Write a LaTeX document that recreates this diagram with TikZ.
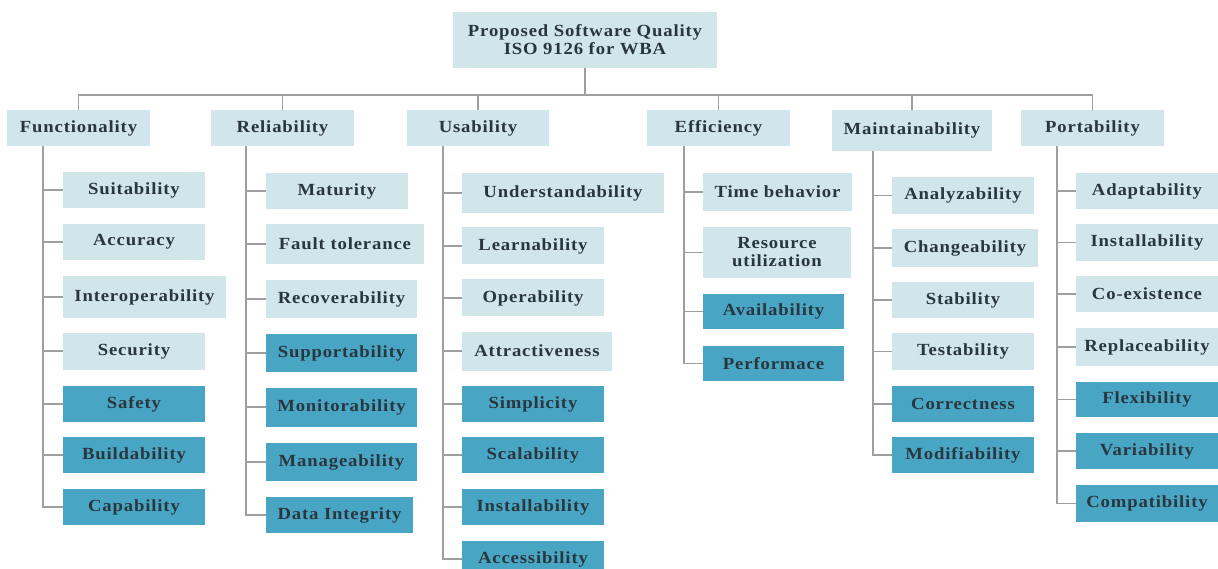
\documentclass[tikz,border=0pt]{standalone}
\usepackage{fontspec}
\setmainfont{Liberation Serif}[FakeStretch=1.1,LetterSpace=5]
\definecolor{lightc}{RGB}{208,230,234}
\definecolor{darkc}{RGB}{72,166,196}
\definecolor{txtc}{RGB}{42,54,62}
\definecolor{linec}{RGB}{158,158,158}
\newcommand\bx[7]{\node[#1, minimum width=#5pt, minimum height=#6pt] (#2) at (#3,#4) {#7};}
\tikzset{
  boxbase/.style={inner sep=0pt, font=\fontsize{17}{18}\selectfont\bfseries, text=txtc, align=center, anchor=center},
  lb/.style={boxbase, fill=lightc},
  db/.style={boxbase, fill=darkc},
  ln/.style={draw=linec, line width=1.5pt}
}
\begin{document}
\begin{tikzpicture}[x=1pt,y=-1pt]
\useasboundingbox (0,0) rectangle (1218,569);
\clip (0,0) rectangle (1218,569);
\fill[white] (0,0) rectangle (1218,569);
% root
\bx{lb}{root}{585}{40}{264}{56}{Proposed Software Quality\\ISO 9126 for WBA}
% categories
\bx{lb}{fun}{78.5}{128}{143}{36}{Functionality}
\bx{lb}{rel}{282.5}{128}{143}{36}{Reliability}
\bx{lb}{usa}{478}{128}{142}{36}{Usability}
\bx{lb}{eff}{718.5}{128}{143}{36}{Efficiency}
\bx{lb}{mai}{912}{130.5}{160}{41}{Maintainability}
\bx{lb}{por}{1092.5}{128}{143}{36}{Portability}
\foreach \c in {fun,rel,usa,eff,mai,por}
  \draw[ln] (root.south) -- ++(0,27) -| (\c.north);
% Functionality
\bx{lb}{f1}{134}{190}{142}{36}{Suitability}
\bx{lb}{f2}{134}{242}{142}{36}{Accuracy}
\bx{lb}{f3}{144.5}{297}{163}{42}{Interoperability}
\bx{lb}{f4}{134}{351}{142}{37}{Security}
\bx{db}{f5}{134}{404}{142}{36}{Safety}
\bx{db}{f6}{134}{455}{142}{36}{Buildability}
\bx{db}{f7}{134}{507}{142}{36}{Capability}
\foreach \i in {f1,f2,f3,f4,f5,f6,f7}
  \draw[ln] ([xshift=36pt]fun.south west) |- (\i.west);
% Reliability
\bx{lb}{r1}{337}{191}{142}{36}{Maturity}
\bx{lb}{r2}{345}{244}{158}{40}{Fault tolerance}
\bx{lb}{r3}{341.5}{299}{151}{38}{Recoverability}
\bx{db}{r4}{341.5}{353}{151}{38}{Supportability}
\bx{db}{r5}{341.5}{407}{151}{39}{Monitorability}
\bx{db}{r6}{341.5}{462}{151}{38}{Manageability}
\bx{db}{r7}{339.5}{515}{147}{36}{Data Integrity}
\foreach \i in {r1,r2,r3,r4,r5,r6,r7}
  \draw[ln] ([xshift=35pt]rel.south west) |- (\i.west);
% Usability
\bx{lb}{u1}{563}{193}{202}{40}{Understandability}
\bx{lb}{u2}{533}{246}{142}{37}{Learnability}
\bx{lb}{u3}{533}{298}{142}{37}{Operability}
\bx{lb}{u4}{537}{351}{150}{39}{Attractiveness}
\bx{db}{u5}{533}{404}{142}{36}{Simplicity}
\bx{db}{u6}{533}{455}{142}{36}{Scalability}
\bx{db}{u7}{533}{507}{142}{36}{Installability}
\bx{db}{u8}{533}{559}{142}{36}{Accessibility}
\foreach \i in {u1,u2,u3,u4,u5,u6,u7,u8}
  \draw[ln] ([xshift=36pt]usa.south west) |- (\i.west);
% Efficiency
\bx{lb}{e1}{777.5}{192}{149}{38}{Time behavior}
\bx{lb}{e2}{777}{252.5}{148}{51}{Resource\\utilization}
\bx{db}{e3}{773.5}{311.5}{141}{35}{Availability}
\bx{db}{e4}{773.5}{363.5}{141}{35}{Performace}
\foreach \i in {e1,e2,e3,e4}
  \draw[ln] ([xshift=37pt]eff.south west) |- (\i.west);
% Maintainability
\bx{lb}{m1}{963}{195.5}{142}{37}{Analyzability}
\bx{lb}{m2}{965}{248}{146}{38}{Changeability}
\bx{lb}{m3}{963}{300}{142}{36}{Stability}
\bx{lb}{m4}{963}{351.5}{142}{37}{Testability}
\bx{db}{m5}{963}{404}{142}{36}{Correctness}
\bx{db}{m6}{963}{455}{142}{36}{Modifiability}
\foreach \i in {m1,m2,m3,m4,m5,m6}
  \draw[ln] ([xshift=41pt]mai.south west) |- (\i.west);
% Portability
\bx{lb}{p1}{1147}{191}{142}{36}{Adaptability}
\bx{lb}{p2}{1147}{242.5}{142}{37}{Installability}
\bx{lb}{p3}{1147}{294}{142}{36}{Co-existence}
\bx{lb}{p4}{1147}{347}{142}{38}{Replaceability}
\bx{db}{p5}{1147}{399.5}{142}{35}{Flexibility}
\bx{db}{p6}{1147}{451}{142}{36}{Variability}
\bx{db}{p7}{1147}{503.5}{142}{37}{Compatibility}
\foreach \i in {p1,p2,p3,p4,p5,p6,p7}
  \draw[ln] ([xshift=36pt]por.south west) |- (\i.west);
\end{tikzpicture}
\end{document}
